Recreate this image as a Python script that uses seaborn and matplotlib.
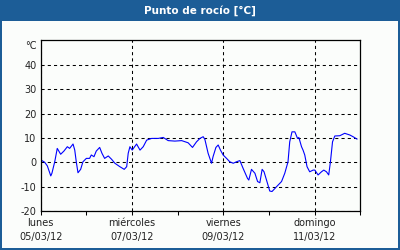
import matplotlib
matplotlib.use("Agg")
import matplotlib.pyplot as plt
import seaborn as sns
import pandas as pd
from matplotlib.patches import Rectangle

# ---- data (hours since Monday 05/03/12 00:00, dew point in °C) ----
hours = [0, 2.1, 3.5, 5.3, 5.9, 7.4, 8.7, 10.5, 12.2, 14.0, 15.2, 17.0, 17.9, 18.7,
         19.6, 21.0, 22.2, 24.0, 25.7, 26.6, 28.0, 29.2, 31.0, 32.2, 33.6, 35.5,
         37.3, 39.0, 41.6, 43.9, 45.2, 46.0, 46.9, 48.1, 50.4, 52.2, 53.9, 55.7,
         58.3, 61.8, 64.4, 67.0, 70.5, 74.1, 77.5, 79.8, 81.9, 83.7, 85.4, 86.3,
         88.0, 89.8, 90.6, 92.1, 93.3, 94.5, 95.9, 97.7, 99.4, 101.2, 102.9, 104.7,
         106.4, 108.7, 109.4, 110.8, 112.6, 114.0, 115.2, 116.4, 117.4, 118.7,
         120.4, 121.6, 124.0, 126.6, 128.3, 130.0, 130.9, 132.1, 133.6, 135.0,
         135.7, 137.1, 137.9, 138.8, 140.0, 141.4, 143.2, 144.1, 145.8, 147.6,
         148.8, 150.2, 151.4, 152.3, 153.4, 154.6, 157.2, 159.8, 162.5, 164.2, 166.3]
dew = [1.0, 0.0, -1.5, -5.6, -4.5, 0.3, 5.7, 3.3, 4.6, 6.4, 5.7, 7.5, 5.0, 0.2,
       -4.3, -2.9, 0.2, 1.6, 1.6, 3.0, 2.3, 4.6, 6.1, 3.7, 1.6, 2.6,
       1.2, -0.4, -1.8, -2.9, -1.8, 3.7, 6.4, 5.0, 7.5, 5.0, 6.4, 9.1,
       9.8, 9.8, 10.2, 8.9, 8.7, 8.9, 8.0, 6.1, 8.4, 9.8, 10.5, 9.4,
       3.7, -0.4, 2.3, 6.1, 7.1, 5.0, 3.0, 1.6, 0.2, -0.4, 0.2, 0.7,
       -2.5, -6.6, -7.3, -2.9, -4.5, -7.9, -8.4, -2.9, -3.9, -7.3,
       -11.8, -12.0, -10.0, -7.9, -4.5, 0.2, 8.4, 12.5, 12.5, 9.8,
       10.2, 6.4, 5.0, 3.0, -1.8, -3.9, -3.2, -3.2, -5.2, -3.9,
       -3.2, -3.9, -5.2, 0.2, 8.4, 10.8, 10.9, 11.9, 11.2, 10.5, 9.5]

major_ticks = [0, 48, 96, 144]
minor_ticks = [24, 72, 120, 168]
major_labels = ["lunes\n05/03/12", "miércoles\n07/03/12",
                "viernes\n09/03/12", "domingo\n11/03/12"]
y_ticks = [-20, -10, 0, 10, 20, 30, 40]
title = "Punto de rocío [°C]"
unit = "°C"

df = pd.DataFrame({"hours": hours, "dew": dew})

sns.set_style("white")
plt.rcParams["font.family"] = ["DejaVu Sans"]

bg = "#fbfdfb"
blue = "#1c5d97"

fig = plt.figure(figsize=(4, 2.5), dpi=100, facecolor=bg)
ax = fig.add_axes([40.7 / 400, 1 - 211 / 250, (360.3 - 40.7) / 400, (211 - 40.5) / 250])
ax.set_facecolor(bg)

sns.lineplot(data=df, x="hours", y="dew", ax=ax, color="#0000ff", linewidth=0.8)

ax.set_xlim(0, 168)
ax.set_ylim(-20, 50)
ax.set_xticks(major_ticks)
ax.set_xticklabels(major_labels, fontsize=7, linespacing=1.55, color="#222222")
ax.set_xticks(minor_ticks, minor=True)
ax.set_yticks(y_ticks)
ax.set_yticklabels([str(v) for v in y_ticks], fontsize=7, color="#222222")
ax.set_xlabel("")
ax.set_ylabel("")

ax.tick_params(axis="x", which="both", direction="out", length=3, width=0.75,
               color="black", pad=2, bottom=True)
ax.tick_params(axis="y", length=0, pad=3, left=True)

ax.grid(True, axis="both", which="major", color="black", linestyle=(0, (3, 3)),
        linewidth=0.75)
for s in ax.spines.values():
    s.set_visible(True)
    s.set_color("black")
    s.set_linewidth(0.9)

ax.annotate(unit, xy=(0, 47.6), xycoords=("axes fraction", "data"),
            xytext=(-3, 0), textcoords="offset points", ha="right", va="center",
            fontsize=7, color="#222222")

# title bar and frame
fig.add_artist(Rectangle((0, 1 - 21 / 250), 1, 21 / 250, transform=fig.transFigure,
                         facecolor=blue, edgecolor="none", zorder=0))
fig.add_artist(Rectangle((0, 0), 2 / 400, 1, transform=fig.transFigure,
                         facecolor=blue, edgecolor="none"))
fig.add_artist(Rectangle((1 - 2 / 400, 0), 2 / 400, 1, transform=fig.transFigure,
                         facecolor=blue, edgecolor="none"))
fig.add_artist(Rectangle((0, 0), 1, 2.5 / 250, transform=fig.transFigure,
                         facecolor=blue, edgecolor="none"))
fig.text(0.5, 1 - 10.5 / 250, title, ha="center", va="center", color="white",
         fontsize=7.5, fontweight="bold")

fig.savefig("out.png", dpi=100, facecolor=bg)
